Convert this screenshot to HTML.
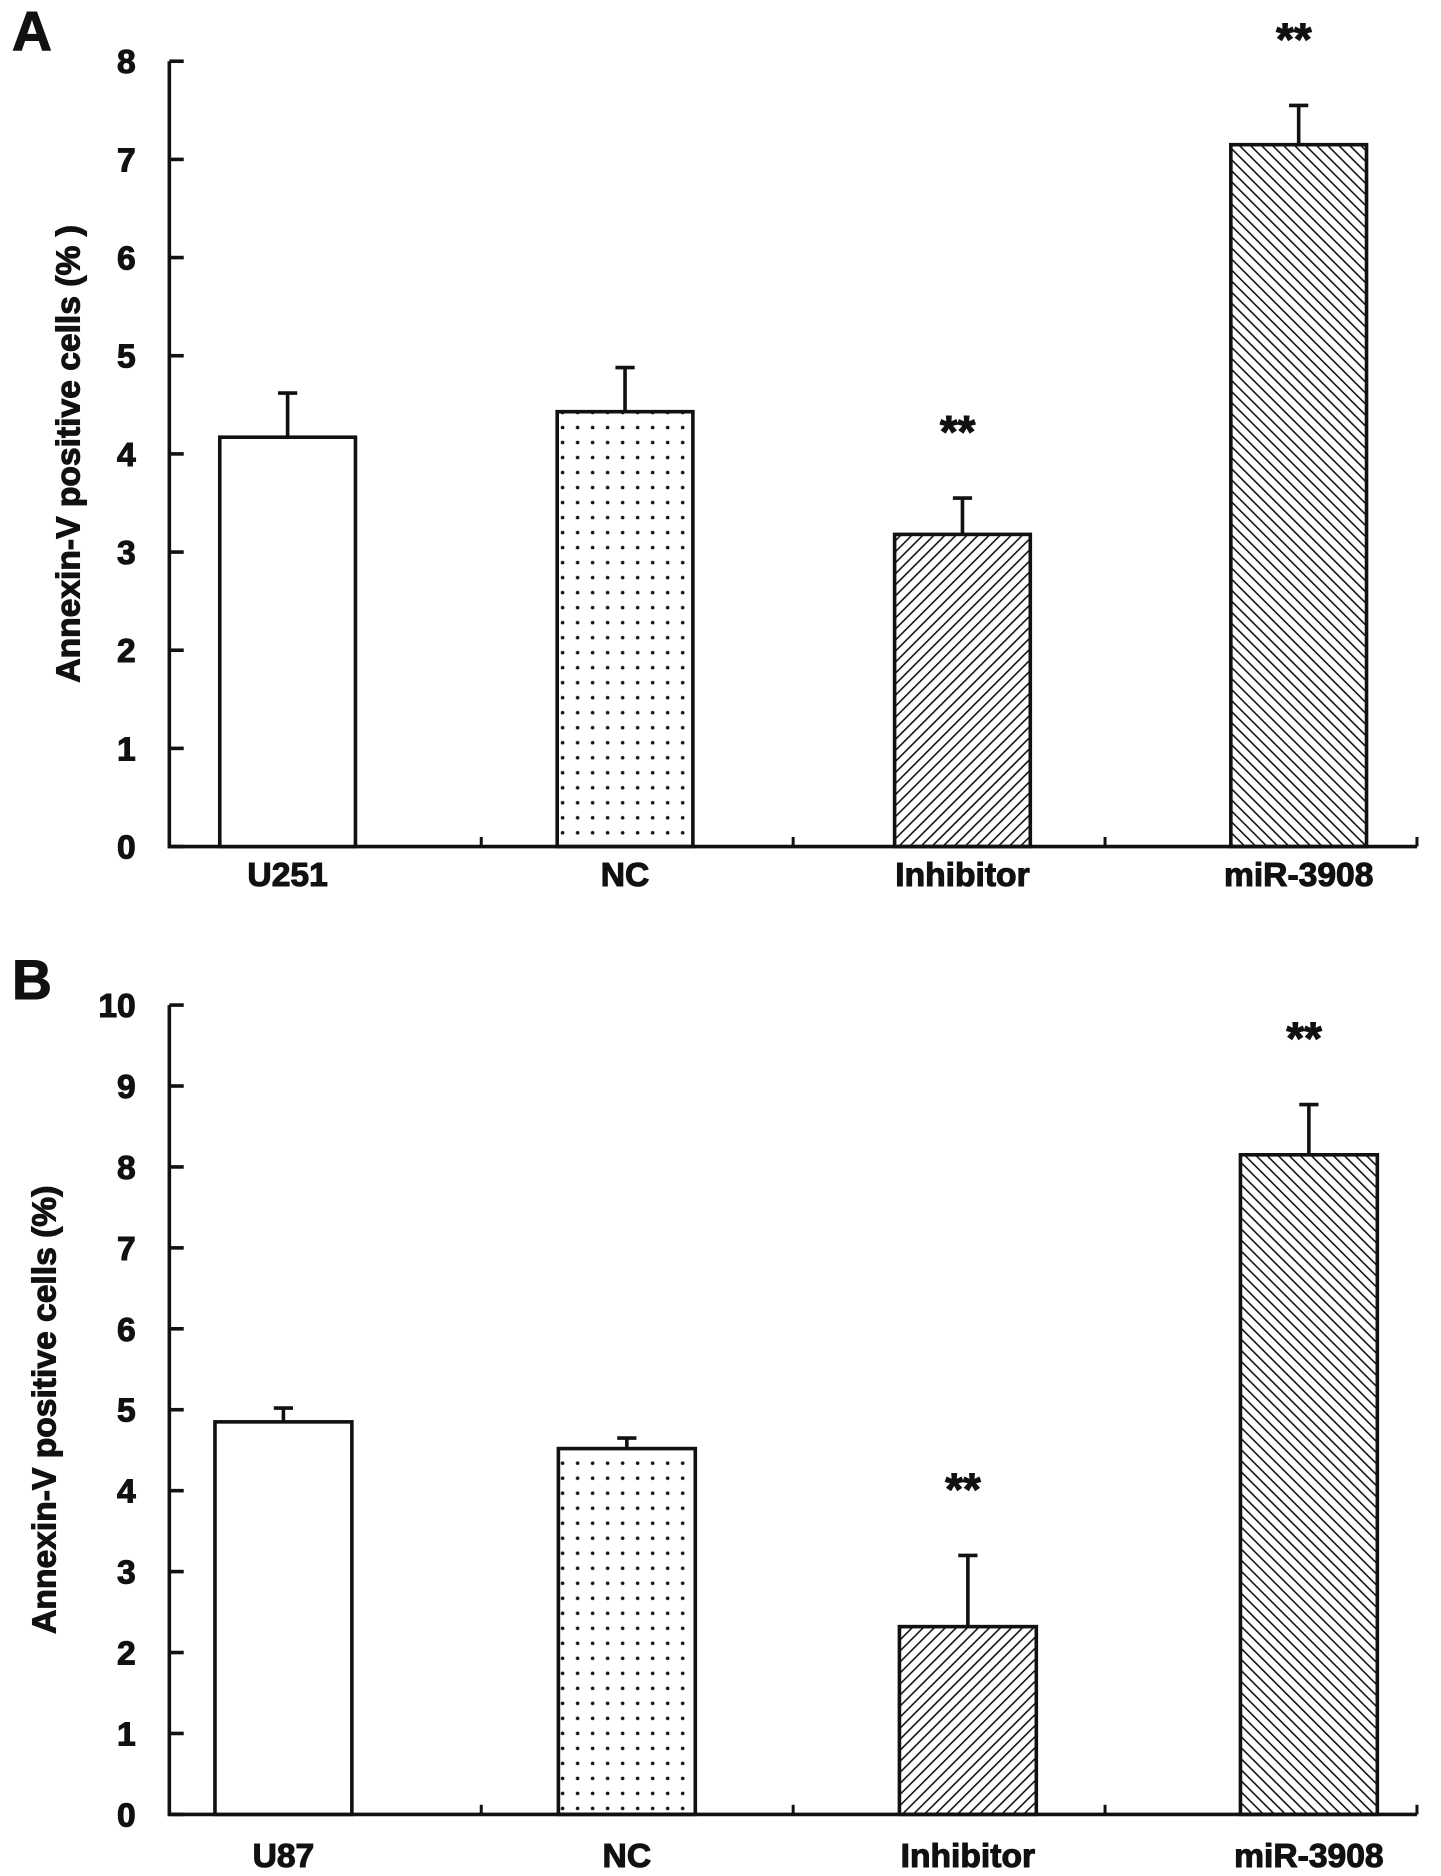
<!DOCTYPE html>
<html><head><meta charset="utf-8"><style>
html,body{margin:0;padding:0;background:#fff}
svg{display:block}
text{font-family:"Liberation Sans",Arial,sans-serif;font-weight:bold;fill:#111;stroke:#111;stroke-width:0.9}
</style></head><body>
<svg id="fig" width="1441" height="1876" viewBox="0 0 1200 1562.3" xmlns="http://www.w3.org/2000/svg">
<defs>
<pattern id="dots" patternUnits="userSpaceOnUse" width="12.5" height="12.5"><circle cx="6" cy="6" r="1.5" fill="#111"/></pattern>
<pattern id="hatchF" patternUnits="userSpaceOnUse" width="6.5" height="6.5" patternTransform="rotate(45)"><line x1="0" y1="0" x2="0" y2="6.5" stroke="#111" stroke-width="2.6"/></pattern>
<pattern id="hatchB" patternUnits="userSpaceOnUse" width="6.5" height="6.5" patternTransform="rotate(-45)"><line x1="0" y1="0" x2="0" y2="6.5" stroke="#111" stroke-width="2.6"/></pattern>
</defs>
<g id="pA"></g>
<g id="pB"></g>
</svg>
<script>
const catsA = ["U251","NC","Inhibitor","miR-3908"];
const valsA = [4.17, 4.43, 3.18, 7.15];
const errA = [0.45, 0.45, 0.37, 0.40];
const sigA = ["", "", "**", "**"];
const ticksA = [0,1,2,3,4,5,6,7,8];
const catsB = ["U87","NC","Inhibitor","miR-3908"];
const valsB = [4.85, 4.52, 2.32, 8.15];
const errB = [0.17, 0.13, 0.88, 0.62];
const sigB = ["", "", "**", "**"];
const ticksB = [0,1,2,3,4,5,6,7,8,9,10];
const fills = ["#fff","url(#dots)","url(#hatchF)","url(#hatchB)"];
const NS = "http://www.w3.org/2000/svg";
function mk(g, tag, attrs, txt){const e=document.createElementNS(NS,tag);for(const k in attrs)e.setAttribute(k,attrs[k]);if(txt!==undefined)e.textContent=txt;g.appendChild(e);return e;}
function panel(g, cfg){
  const {cats, vals, errs, sigs, ticks, x0, x1, yTop, yBot, max, letter, letterY, title, titleX, barW, barX, labelY} = cfg;
  const y = v => yBot - (v/max)*(yBot-yTop);
  const L = mk(g,'text',{x:10,y:letterY,'font-size':46,'stroke-width':2}, letter);
  
  
  const ax = mk(g,'path',{d:`M${x0} ${yTop} V${yBot} H${x1}`,stroke:'#111','stroke-width':3,fill:'none'});
  
  
  ticks.forEach(t=>{
    const tk = mk(g,'line',{x1:x0,x2:x0+12,y1:y(t),y2:y(t),stroke:'#111','stroke-width':3});
    
    
    const tl = mk(g,'text',{x:x0-28,y:y(t)+10,'font-size':28,'text-anchor':'end'}, String(t));
    
    
  });
  const step = (x1-x0)/cats.length;
  for(let i=1;i<=cats.length;i++){
    const ct = mk(g,'line',{x1:x0+step*i,x2:x0+step*i,y1:yBot,y2:yBot-8,stroke:'#111','stroke-width':2.5});
    
    
  }
  cats.forEach((c,i)=>{
    const bx = barX[i];
    const cx = bx+barW/2;
    const top = y(vals[i]);
    const et = y(vals[i]+errs[i]);
    const el = mk(g,'path',{d:`M${cx} ${top} V${et} M${cx-8} ${et} H${cx+8}`,stroke:'#111','stroke-width':3,fill:'none'});
    
    
    const r = mk(g,'rect',{x:bx,y:top,width:barW,height:yBot-top,fill:fills[i],stroke:'#111','stroke-width':3});
    
    
    if(sigs[i]){
      const s = mk(g,'text',{x:cx-4,y:et-42,'font-size':38,'text-anchor':'middle'}, sigs[i]);
      
      
    }
    const cl = mk(g,'text',{x:cx,y:labelY,'font-size':28,'text-anchor':'middle'}, c);
    
    
  });
  const tt = mk(g,'text',{x:0,y:0,'font-size':28,'text-anchor':'middle',transform:`translate(${titleX},${(yTop+yBot)/2}) rotate(-90)`}, title);
  
  
}
panel(document.getElementById('pA'),{cats:catsA,vals:valsA,errs:errA,sigs:sigA,ticks:ticksA,x0:141,x1:1180,yTop:51,yBot:705,max:8,letter:'A',letterY:42,title:'Annexin-V positive cells (% )',titleX:66,barW:113,barX:[183,464,745,1025],labelY:738});
panel(document.getElementById('pB'),{cats:catsB,vals:valsB,errs:errB,sigs:sigB,ticks:ticksB,x0:141,x1:1180,yTop:837,yBot:1511,max:10,letter:'B',letterY:832,title:'Annexin-V positive cells (%)',titleX:46,barW:114,barX:[179,465,749,1033],labelY:1555});
</script>
</body></html>
